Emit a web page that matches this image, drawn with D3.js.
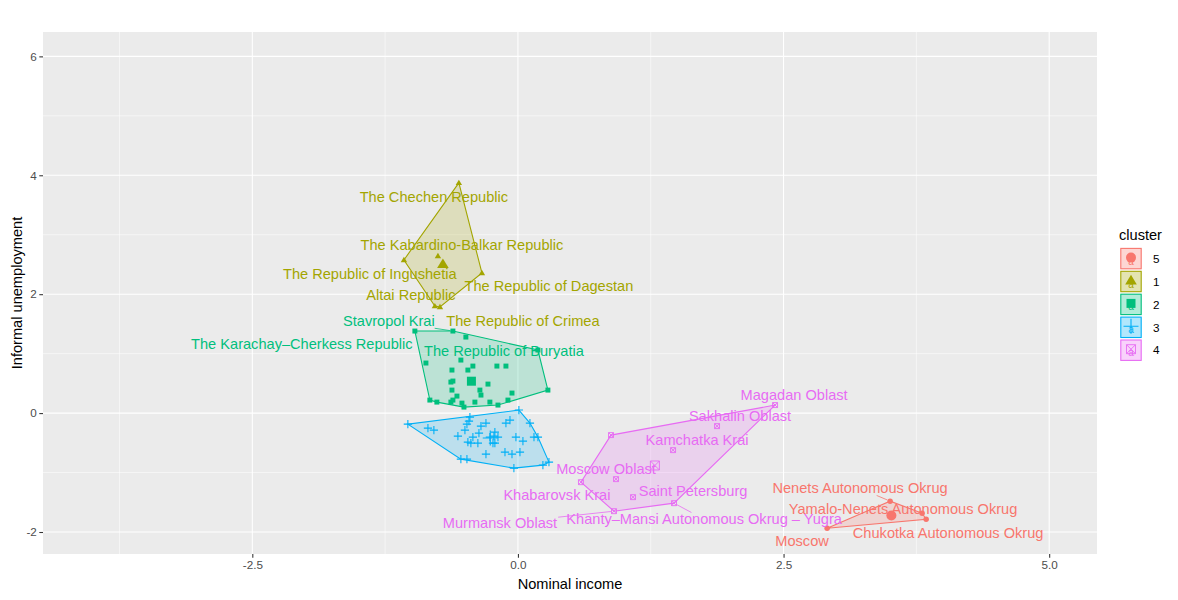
<!DOCTYPE html>
<html><head><meta charset="utf-8">
<script src="https://cdn.jsdelivr.net/npm/d3@7"></script>
<style>
body{margin:0;background:#fff;}
text{font-family:"Liberation Sans",Arial,Helvetica,sans-serif;}
</style>
</head><body>
<svg id="chart" width="1178" height="600"></svg>
<script>
// ---- data ----
const clusterLevels = ["5", "1", "2", "3", "4"];
const clusterColors = ["#F8766D", "#A3A500", "#00BF7D", "#00B0F6", "#E76BF3"];
const clusterShapes = ["circle", "triangle", "square", "plus", "squarecross"];
const xTicks = [-2.5, 0, 2.5, 5];
const xTickLabels = ["-2.5", "0.0", "2.5", "5.0"];
const yTicks = [-2, 0, 2, 4, 6];
const yTickLabels = ["-2", "0", "2", "4", "6"];

// [region, Nominal income, Informal unemployment]
const cluster1 = [
  ["The Chechen Republic", -0.556, 3.872],
  ["The Kabardino-Balkar Republic", -0.753, 2.643],
  ["The Republic of Ingushetia", -1.073, 2.576],
  ["The Republic of Dagestan", -0.339, 2.357],
  ["Altai Republic", -0.782, 1.801],
  ["The Republic of Crimea", -0.734, 1.785]
];
const cluster2 = [
  ["The Karachay–Cherkess Republic", -0.970, 1.380],
  ["Stavropol Krai", -0.612, 1.380],
  ["", -0.490, 1.279],
  ["The Republic of Buryatia", 0.188, 1.061],
  ["", 0.282, 0.387],
  ["", -0.866, 0.842],
  ["", -0.537, 0.892],
  ["", -0.424, 0.791],
  ["", -0.471, 0.724],
  ["", -0.198, 0.791],
  ["", -0.113, 0.791],
  ["", -0.621, 0.724],
  ["", -0.282, 0.488],
  ["", -0.631, 0.522],
  ["", -0.612, 0.539],
  ["", -0.621, 0.387],
  ["", -0.358, 0.387],
  ["", -0.348, 0.303],
  ["", -0.056, 0.337],
  ["", -0.574, 0.286],
  ["", -0.612, 0.219],
  ["", -0.631, 0.185],
  ["", -0.829, 0.219],
  ["", -0.763, 0.185],
  ["", -0.527, 0.168],
  ["", -0.508, 0.101],
  ["", -0.405, 0.185],
  ["", -0.264, 0.185],
  ["", -0.188, 0.135],
  ["", -0.094, 0.219]
];
const cluster3 = [
  ["", -1.036, -0.185], ["", -0.847, -0.253], ["", -0.791, -0.286],
  ["", -0.452, -0.067], ["", -0.461, -0.135], ["", -0.480, -0.185],
  ["", -0.499, -0.286], ["", -0.348, -0.219], ["", -0.301, -0.168],
  ["", -0.113, -0.168], ["", -0.075, -0.118], ["", 0.009, 0.051],
  ["", 0.113, -0.168], ["", -0.565, -0.387], ["", -0.367, -0.337],
  ["", -0.424, -0.404], ["", -0.471, -0.488], ["", -0.443, -0.505],
  ["", -0.377, -0.505], ["", -0.264, -0.404], ["", -0.217, -0.320],
  ["", -0.226, -0.387], ["", -0.188, -0.404], ["", -0.235, -0.505],
  ["", -0.217, -0.505], ["", -0.019, -0.404], ["", 0.047, -0.471],
  ["", 0.151, -0.404], ["", 0.188, -0.404], ["", -0.301, -0.690],
  ["", -0.122, -0.657], ["", -0.056, -0.690], ["", 0.019, -0.657],
  ["", -0.537, -0.774], ["", -0.480, -0.774], ["", -0.038, -0.926],
  ["", 0.235, -0.875], ["", 0.292, -0.825]
];
const cluster4 = [
  ["Magadan Oblast", 2.420, 0.135],
  ["Sakhalin Oblast", 1.874, -0.219],
  ["Kamchatka Krai", 1.460, -0.623],
  ["", 0.876, -0.370],
  ["Moscow Oblast", 0.923, -1.111],
  ["Khabarovsk Krai", 0.593, -1.162],
  ["Saint Petersburg", 1.083, -1.414],
  ["Murmansk Oblast", 0.904, -1.650],
  ["Khanty–Mansi Autonomous Okrug – Yugra", 1.469, -1.515]
];
const cluster5 = [
  ["Nenets Autonomous Okrug", 3.503, -1.481],
  ["Yamalo-Nenets Autonomous Okrug", 3.804, -1.684],
  ["Chukotka Autonomous Okrug", 3.842, -1.785],
  ["Moscow", 2.910, -1.936]
];
const clusterData = {"1": cluster1, "2": cluster2, "3": cluster3, "4": cluster4, "5": cluster5};

// ---- label layout (repelled label centres, in data units) ----
const labelPlacement = [
  ["The Chechen Republic", -0.791, 3.636],
  ["The Kabardino-Balkar Republic", -0.527, 2.828],
  ["The Republic of Ingushetia", -1.394, 2.340],
  ["The Republic of Dagestan", 0.292, 2.138],
  ["Altai Republic", -1.008, 1.987],
  ["The Republic of Crimea", 0.047, 1.549],
  ["Stavropol Krai", -1.215, 1.549],
  ["The Karachay–Cherkess Republic", -2.034, 1.162],
  ["The Republic of Buryatia", -0.132, 1.044],
  ["Magadan Oblast", 2.599, 0.303],
  ["Sakhalin Oblast", 2.090, -0.051],
  ["Kamchatka Krai", 1.686, -0.455],
  ["Moscow Oblast", 0.829, -0.943],
  ["Khabarovsk Krai", 0.367, -1.380],
  ["Saint Petersburg", 1.648, -1.313],
  ["Murmansk Oblast", -0.169, -1.852],
  ["Khanty–Mansi Autonomous Okrug – Yugra", 1.752, -1.785],
  ["Nenets Autonomous Okrug", 3.220, -1.263],
  ["Yamalo-Nenets Autonomous Okrug", 3.625, -1.616],
  ["Chukotka Autonomous Okrug", 4.049, -2.020],
  ["Moscow", 2.674, -2.155]
];
const labelsWithSegment = ["Stavropol Krai", "Murmansk Oblast", "Khanty–Mansi Autonomous Okrug – Yugra", "Nenets Autonomous Okrug"];

// ---- drawing ----
const svg = d3.select("#chart");
const P = {left: 43, right: 1097, top: 32, bottom: 554};
const x = d3.scaleLinear().domain([-4.47, 5.45]).range([P.left, P.right]);
const y = d3.scaleLinear().domain([-2.37, 6.41]).range([P.bottom, P.top]);
const colorOf = d3.scaleOrdinal().domain(clusterLevels).range(clusterColors);
const shapeOf = d3.scaleOrdinal().domain(clusterLevels).range(clusterShapes);

svg.append("rect").attr("x", P.left).attr("y", P.top)
  .attr("width", P.right - P.left).attr("height", P.bottom - P.top).attr("fill", "#EBEBEB");

// grid
const grid = svg.append("g");
const xMinor = xTicks.slice(0, -1).map((d, i) => (d + xTicks[i + 1]) / 2).concat([xTicks[0] - 1.25]);
const yMinor = yTicks.slice(0, -1).map((d, i) => (d + yTicks[i + 1]) / 2);
xMinor.forEach(v => grid.append("line").attr("x1", x(v)).attr("x2", x(v)).attr("y1", P.top).attr("y2", P.bottom).attr("stroke", "#fff").attr("stroke-width", 0.53));
yMinor.forEach(v => grid.append("line").attr("y1", y(v)).attr("y2", y(v)).attr("x1", P.left).attr("x2", P.right).attr("stroke", "#fff").attr("stroke-width", 0.53));
xTicks.forEach(v => grid.append("line").attr("x1", x(v)).attr("x2", x(v)).attr("y1", P.top).attr("y2", P.bottom).attr("stroke", "#fff").attr("stroke-width", 1.07));
yTicks.forEach(v => grid.append("line").attr("y1", y(v)).attr("y2", y(v)).attr("x1", P.left).attr("x2", P.right).attr("stroke", "#fff").attr("stroke-width", 1.07));

// axes
const xAxis = d3.axisBottom(x).tickValues(xTicks).tickFormat((d, i) => xTickLabels[i]).tickSize(3.7).tickPadding(2.5);
const yAxis = d3.axisLeft(y).tickValues(yTicks).tickFormat((d, i) => yTickLabels[i]).tickSize(3.7).tickPadding(2.5);
const gx = svg.append("g").attr("transform", `translate(0,${P.bottom})`).call(xAxis);
const gy = svg.append("g").attr("transform", `translate(${P.left},0)`).call(yAxis);
[gx, gy].forEach(g => {
  g.select(".domain").remove();
  g.selectAll(".tick line").attr("stroke", "#333").attr("stroke-width", 1.07);
  g.selectAll(".tick text").attr("fill", "#4D4D4D").style("font-size", "11.7px")
    .style("font-family", '"Liberation Sans",Arial,sans-serif');
});

svg.append("text").attr("x", (P.left + P.right) / 2).attr("y", 589).attr("text-anchor", "middle")
  .style("font-size", "14.6px").attr("fill", "#000").text("Nominal income");
svg.append("text").attr("transform", `translate(22,${(P.top + P.bottom) / 2}) rotate(-90)`).attr("text-anchor", "middle")
  .style("font-size", "14.6px").attr("fill", "#000").text("Informal unemployment");

// symbols
function drawShape(g, shape, cx, cy, s, color) {
  if (shape === "circle") {
    g.append("circle").attr("cx", cx).attr("cy", cy).attr("r", s * 0.5).attr("fill", color);
  } else if (shape === "triangle") {
    const h = s * 0.95;
    g.append("path").attr("d", `M${cx},${cy - h * 0.6}L${cx + s * 0.58},${cy + h * 0.42}L${cx - s * 0.58},${cy + h * 0.42}Z`).attr("fill", color);
  } else if (shape === "square") {
    g.append("rect").attr("x", cx - s * 0.45).attr("y", cy - s * 0.45).attr("width", s * 0.9).attr("height", s * 0.9).attr("fill", color);
  } else if (shape === "plus") {
    const a = s * 0.75;
    g.append("path").attr("d", `M${cx - a},${cy}H${cx + a}M${cx},${cy - a}V${cy + a}`).attr("stroke", color).attr("stroke-width", 1.1).attr("fill", "none");
  } else {
    const a = s * 0.45;
    g.append("path").attr("d", `M${cx - a},${cy - a}H${cx + a}V${cy + a}H${cx - a}ZM${cx - a},${cy - a}L${cx + a},${cy + a}M${cx + a},${cy - a}L${cx - a},${cy + a}`)
      .attr("stroke", color).attr("stroke-width", 0.9).attr("fill", "none");
  }
}

const clip = svg.append("clipPath").attr("id", "pclip").append("rect")
  .attr("x", P.left).attr("y", P.top).attr("width", P.right - P.left).attr("height", P.bottom - P.top);
const plot = svg.append("g").attr("clip-path", "url(#pclip)");

const drawOrder = ["1", "2", "3", "4", "5"];
const hullG = plot.append("g"), ptG = plot.append("g"), segG = plot.append("g"), labG = plot.append("g");
const pointPix = {};
drawOrder.forEach(k => {
  const pts = clusterData[k];
  const col = colorOf(k), shp = shapeOf(k);
  const pix = pts.map(p => [x(p[1]), y(p[2])]);
  const hull = d3.polygonHull(pix);
  hullG.append("path").attr("d", "M" + hull.join("L") + "Z")
    .attr("fill", col).attr("fill-opacity", 0.2).attr("stroke", col).attr("stroke-width", 1.1);
  pts.forEach(p => {
    drawShape(ptG, shp, x(p[1]), y(p[2]), 5.5, col);
    if (p[0]) pointPix[p[0]] = {px: x(p[1]), py: y(p[2]), col};
  });
  const cx = d3.mean(pts, p => p[1]), cy = d3.mean(pts, p => p[2]);
  drawShape(ptG, shp, x(cx), y(cy), 10, col);
});

labelPlacement.forEach(([name, lx, ly]) => {
  const pp = pointPix[name];
  if (!pp) return;
  const t = labG.append("text").attr("x", x(lx)).attr("y", y(ly)).attr("dy", "0.36em")
    .attr("text-anchor", "middle").style("font-size", "14.6px").attr("fill", pp.col).text(name);
  if (labelsWithSegment.includes(name)) {
    const b = t.node().getBBox();
    const cxl = b.x + b.width / 2, cyl = b.y + b.height / 2;
    const dx = cxl - pp.px, dy = cyl - pp.py;
    const hw = b.width / 2 + 1, hh = b.height / 2 - 1;
    const tx = dx !== 0 ? 1 - hw / Math.abs(dx) : 1;
    const ty = dy !== 0 ? 1 - hh / Math.abs(dy) : 1;
    const tmin = Math.max(0, Math.max(tx, ty));
    const len = Math.hypot(dx, dy);
    const t0 = 3 / len;
    segG.append("line").attr("x1", pp.px + dx * t0).attr("y1", pp.py + dy * t0)
      .attr("x2", pp.px + dx * tmin).attr("y2", pp.py + dy * tmin)
      .attr("stroke", pp.col).attr("stroke-width", 0.8);
  }
});

// legend
const lg = svg.append("g");
lg.append("text").attr("x", 1119).attr("y", 240).style("font-size", "14.6px").attr("fill", "#000").text("cluster");
clusterLevels.forEach((k, i) => {
  const cy = 258.6 + i * 22.9, cx = 1131;
  const col = colorOf(k);
  lg.append("rect").attr("x", cx - 10.2).attr("y", cy - 10.2).attr("width", 20.4).attr("height", 20.4)
    .attr("fill", col).attr("fill-opacity", 0.3).attr("stroke", col).attr("stroke-width", 1.1);
  lg.append("text").attr("x", cx).attr("y", cy + 6).attr("text-anchor", "middle")
    .style("font-size", "10px").attr("fill", col).text("a");
  drawShape(lg, shapeOf(k), cx, cy - 1, 10, col);
  lg.append("text").attr("x", 1153).attr("y", cy).attr("dy", "0.36em")
    .style("font-size", "11.7px").attr("fill", "#000").text(k);
});
</script>
</body></html>
